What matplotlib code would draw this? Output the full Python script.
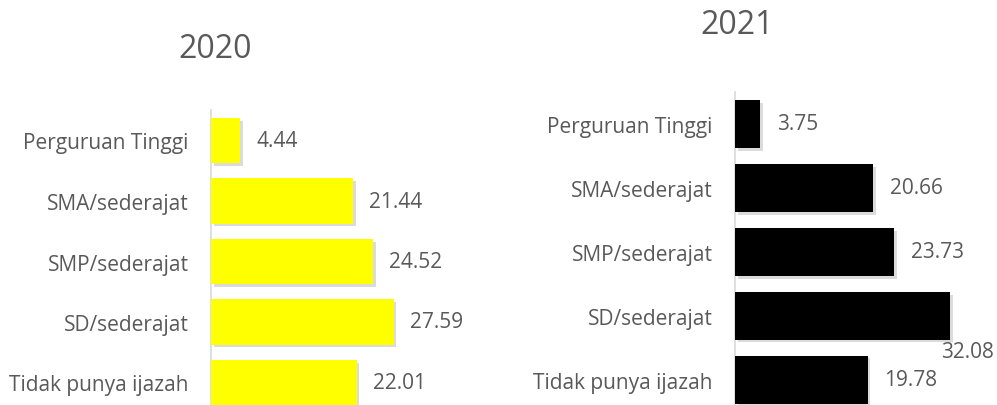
import matplotlib.pyplot as plt
import matplotlib.patheffects as pe

plt.rcParams["font.family"] = ["Open Sans", "DejaVu Sans"]

categories = ["Perguruan Tinggi", "SMA/sederajat", "SMP/sederajat",
              "SD/sederajat", "Tidak punya ijazah"]
values_2020 = [4.44, 21.44, 24.52, 27.59, 22.01]
values_2021 = [3.75, 20.66, 23.73, 32.08, 19.78]

TEXT = "#595959"
W, H = 997, 406
FS = 15


def px_axes(fig, left, top, right, bottom):
    # axes placed by pixel box
    return fig.add_axes([left / W, 1 - bottom / H, (right - left) / W, (bottom - top) / H])


def draw_panel(ax, vals, color, px_per_unit, width_px, pitch, first_center, top_px):
    idx = list(range(len(categories)))
    bars = ax.barh(idx, vals, height=0.75, color=color, zorder=3)
    for b in bars:
        b.set_path_effects([pe.SimplePatchShadow(offset=(2, -2), shadow_rgbFace="#999999", alpha=0.35),
                            pe.Normal()])
    ax.set_xlim(0, width_px / px_per_unit)
    ax.set_ylim((406 - first_center) / pitch, (top_px - first_center) / pitch)
    ax.set_yticks(idx)
    ax.set_yticklabels(categories, fontsize=FS, color=TEXT)
    ax.tick_params(axis="y", length=0, pad=16)
    ax.set_xticks([])
    for s in ["top", "right", "bottom"]:
        ax.spines[s].set_visible(False)
    ax.spines["left"].set_color("#d9d9d9")
    ax.spines["left"].set_linewidth(1.2)
    ax.patch.set_alpha(0)
    return bars


fig = plt.figure(figsize=(9.97, 4.06), dpi=100)

ax1 = px_axes(fig, 211, 111, 470, 406)
draw_panel(ax1, values_2020, "#ffff00", 6.62, 259, 60.5, 141.5, 111)
for i, v in enumerate(values_2020):
    ax1.annotate(f"{v:.2f}", (v, i), xytext=(16, 0), textcoords="offset pixels",
                 ha="left", va="center", fontsize=FS, color=TEXT)
fig.text(215 / W, 1 - 50 / H, "2020", ha="center", va="center", fontsize=23, color=TEXT)

ax2 = px_axes(fig, 735, 93, 997, 406)
draw_panel(ax2, values_2021, "#000000", 6.70, 262, 63.9, 125, 93)
for i, v in enumerate(values_2021):
    if v == max(values_2021):
        ax2.annotate(f"{v:.2f}", (v, i), xytext=(18, -36), textcoords="offset pixels",
                     ha="center", va="center", fontsize=FS, color=TEXT,
                     annotation_clip=False)
    else:
        ax2.annotate(f"{v:.2f}", (v, i), xytext=(17, 0), textcoords="offset pixels",
                     ha="left", va="center", fontsize=FS, color=TEXT)
fig.text(737 / W, 1 - 26 / H, "2021", ha="center", va="center", fontsize=23, color=TEXT)

fig.savefig("out.png", dpi=100)
